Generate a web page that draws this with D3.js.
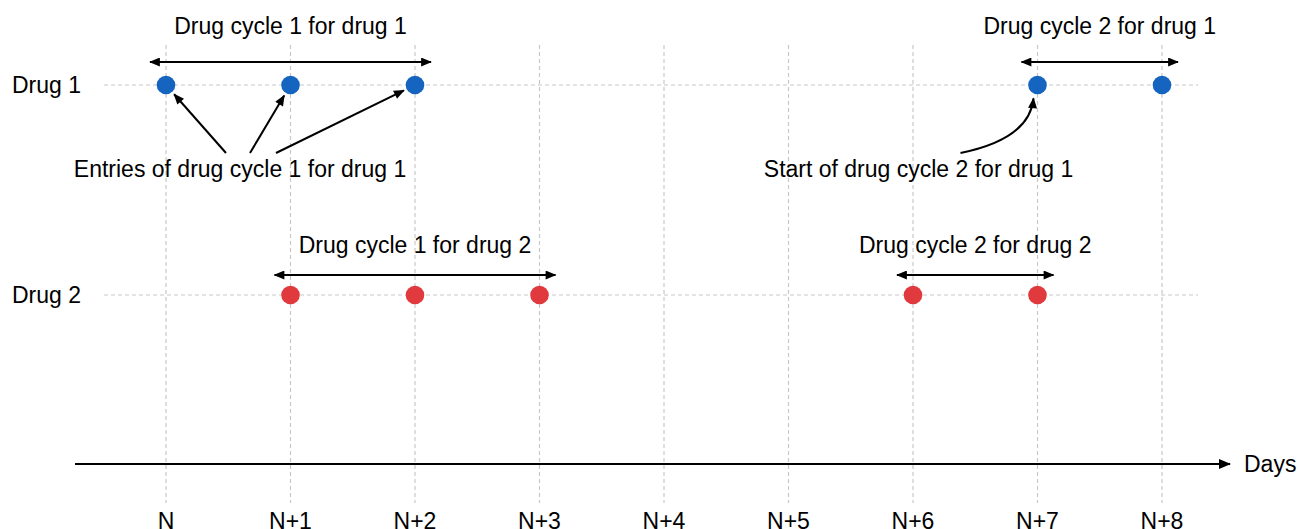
<!DOCTYPE html>
<html>
<head>
<meta charset="utf-8">
<script src="https://cdn.jsdelivr.net/npm/d3@7"></script>
<style>
  html, body { margin: 0; padding: 0; background: #fff; }
  svg { display: block; }
  text { font-family: "Liberation Sans", Arial, Helvetica, sans-serif; fill: #000; }
</style>
</head>
<body>
<svg id="chart" width="1298" height="529"></svg>
<script>
// ---- data ----
const days = ["N", "N+1", "N+2", "N+3", "N+4", "N+5", "N+6", "N+7", "N+8"];
const drugs = ["Drug 1", "Drug 2"];
const drug1Entries = [0, 1, 2, 7, 8];
const drug2Entries = [1, 2, 3, 6, 7];
const cycleDrug = ["Drug 1", "Drug 1", "Drug 2", "Drug 2"];
const cycleStart = [0, 7, 1, 6];
const cycleEnd = [2, 8, 3, 7];
const cycleLabels = ["Drug cycle 1 for drug 1", "Drug cycle 2 for drug 1", "Drug cycle 1 for drug 2", "Drug cycle 2 for drug 2"];
const axisLabel = "Days";
const noteEntries = "Entries of drug cycle 1 for drug 1";
const noteEntriesTargets = [0, 1, 2];
const noteStart = "Start of drug cycle 2 for drug 1";
const noteStartTarget = 7;

// ---- layout ----
const svg = d3.select("#chart");
const x = d3.scaleLinear().domain([0, days.length - 1]).range([166, 1162]);
const y = d3.scalePoint().domain(drugs).range([85, 295]);
const colors = { "Drug 1": "#1565c0", "Drug 2": "#e03a3e" };
const labelOffset = { "Drug 1": -51, "Drug 2": -42 };
const arrowOffset = { "Drug 1": -23, "Drug 2": -20 };
const axisY = 464;
const r = 9.3;
const FS = 23;

const defs = svg.append("defs");
function marker(id, w, h) {
  defs.append("marker")
    .attr("id", id)
    .attr("viewBox", "0 0 12 10")
    .attr("refX", 11).attr("refY", 5)
    .attr("markerWidth", w).attr("markerHeight", h)
    .attr("markerUnits", "userSpaceOnUse")
    .attr("orient", "auto-start-reverse")
    .append("path").attr("d", "M0,0 L12,5 L0,10 Z").attr("fill", "#000");
}
marker("arr", 12, 9);
marker("arrBig", 13, 10);

// gridlines
const grid = svg.append("g").attr("stroke", "#c8c8c8").attr("stroke-width", 1.2).attr("stroke-dasharray", "4,3");
grid.selectAll("line.v").data(days).join("line").attr("class", "v")
  .attr("x1", (d, i) => x(i)).attr("x2", (d, i) => x(i))
  .attr("y1", 45).attr("y2", 503);
grid.selectAll("line.h").data(drugs).join("line").attr("class", "h")
  .attr("x1", 104).attr("x2", 1198)
  .attr("y1", d => y(d)).attr("y2", d => y(d));

// x axis (arrow)
svg.append("line")
  .attr("x1", 75).attr("x2", 1230).attr("y1", axisY).attr("y2", axisY)
  .attr("stroke", "#000").attr("stroke-width", 2)
  .attr("marker-end", "url(#arrBig)");
svg.append("text").attr("x", 1244).attr("y", axisY + 8).attr("font-size", FS).text(axisLabel);

// tick labels
svg.selectAll("text.tick").data(days).join("text").attr("class", "tick")
  .attr("x", (d, i) => x(i)).attr("y", 529)
  .attr("text-anchor", "middle").attr("font-size", FS).text(d => d);

// drug labels
svg.selectAll("text.drug").data(drugs).join("text").attr("class", "drug")
  .attr("x", 12).attr("y", d => y(d) + 8)
  .attr("font-size", FS).text(d => d);

// cycle arrows and labels
const cycles = cycleDrug.map((d, i) => ({ drug: d, s: cycleStart[i], e: cycleEnd[i], label: cycleLabels[i] }));
svg.selectAll("line.cycle").data(cycles).join("line").attr("class", "cycle")
  .attr("x1", d => x(d.s) - 16).attr("x2", d => x(d.e) + 16)
  .attr("y1", d => y(d.drug) + arrowOffset[d.drug]).attr("y2", d => y(d.drug) + arrowOffset[d.drug])
  .attr("stroke", "#000").attr("stroke-width", 2)
  .attr("marker-start", "url(#arr)").attr("marker-end", "url(#arr)");
svg.selectAll("text.cycle").data(cycles).join("text").attr("class", "cycle")
  .attr("x", d => (x(d.s) + x(d.e)) / 2).attr("y", d => y(d.drug) + labelOffset[d.drug])
  .attr("text-anchor", "middle").attr("font-size", FS).text(d => d.label);

// dots
const points = [
  ...drug1Entries.map(v => ({ drug: "Drug 1", day: v })),
  ...drug2Entries.map(v => ({ drug: "Drug 2", day: v }))
];
svg.selectAll("circle.dot").data(points).join("circle").attr("class", "dot")
  .attr("cx", d => x(d.day)).attr("cy", d => y(d.drug)).attr("r", r)
  .attr("fill", d => colors[d.drug]);

// annotation: entries
const noteX = x(0) + 74, noteY = y("Drug 1") + 92;
svg.append("text").attr("x", noteX).attr("y", noteY).attr("text-anchor", "middle")
  .attr("font-size", FS).text(noteEntries);
const startOffsets = [-14, 10, 36];
noteEntriesTargets.forEach((t, i) => {
  const sx = noteX + startOffsets[i], sy = noteY - 24;
  const tx = x(t), ty = y("Drug 1");
  const dx = tx - sx, dy = ty - sy, len = Math.hypot(dx, dy);
  const ex = tx - dx / len * (r + 3), ey = ty - dy / len * (r + 3);
  svg.append("line").attr("x1", sx).attr("y1", sy).attr("x2", ex).attr("y2", ey)
    .attr("stroke", "#000").attr("stroke-width", 2).attr("marker-end", "url(#arr)");
});

// annotation: start of cycle 2
const note2X = x(noteStartTarget) - 119, note2Y = y("Drug 1") + 92;
svg.append("text").attr("x", note2X).attr("y", note2Y).attr("text-anchor", "middle")
  .attr("font-size", FS).text(noteStart);
{
  const sx = note2X + 42, sy = note2Y - 24;
  const tx = x(noteStartTarget), ty = y("Drug 1");
  const ex = tx - 4, ey = ty + r + 4;
  svg.append("path")
    .attr("d", `M${sx},${sy} Q${tx - 8},${sy - 14} ${ex},${ey}`)
    .attr("fill", "none").attr("stroke", "#000").attr("stroke-width", 2)
    .attr("marker-end", "url(#arr)");
}
</script>
</body>
</html>
